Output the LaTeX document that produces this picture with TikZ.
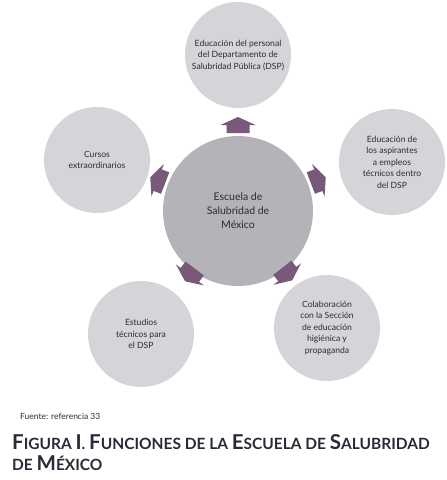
\documentclass[tikz,border=0pt]{standalone}
\usepackage{fontspec}
\setmainfont{Lato}
\usepackage{tikz}
\usetikzlibrary{positioning,calc}
\definecolor{outergray}{HTML}{D5D5D9}
\definecolor{centergray}{HTML}{B5B3B8}
\definecolor{arrowplum}{HTML}{78597A}
\definecolor{inktext}{HTML}{2A2A38}
\tikzset{
  outer/.style = {circle, fill=outergray, minimum size=106pt, inner sep=0pt, align=center,
                  text=inktext, font=\fontsize{8.6}{11.5}\selectfont},
  hub/.style   = {circle, fill=centergray, minimum size=150pt, inner sep=0pt, align=center,
                  text=inktext, font=\fontsize{10.5}{14}\selectfont},
  caption/.style = {anchor=base west, text=inktext, inner sep=0pt, font=\bfseries\fontsize{15.5}{20}\selectfont},
  blockarrow/.pic = {\fill[arrowplum] (-8,-11.5) -- (0,-11.5) -- (0,-17.5) -- (8,0)
                     -- (0,17.5) -- (0,11.5) -- (-8,11.5) -- cycle;}
}
\newcommand{\capl}[1]{{\fontsize{20.5}{20}\selectfont #1}}

\begin{document}
\begin{tikzpicture}[x=1pt, y=1pt]
    \useasboundingbox (0,0) rectangle (447,-480);
    % centro y funciones
    \node[hub] (esm) at (238,-211) {Escuela de\\Salubridad de\\México};
    \node[outer] (edp) at (238,-55) {Educación del personal\\del Departamento de\\Salubridad Pública (DSP)};
    \node[outer] (eat) at (392,-162) {Educación de\\los aspirantes\\a empleos\\técnicos dentro\\del DSP};
    \node[outer] (col) at (327,-328) {Colaboración\\con la Sección\\de educación\\higiénica y\\propaganda};
    \node[outer] (etd) at (141,-334) {Estudios\\técnicos para\\el DSP};
    \node[outer] (cex) at (97,-160) {Cursos\\extraordinarios};
    % flechas
    \foreach \a/\d in {90/86, 21/86, -52/80, -127/80, 159/86}
        \pic[rotate=\a] at ($(esm.center)+(\a:\d)$) {blockarrow};
    % pie de figura
    \node[anchor=base west, text=inktext, inner sep=0pt, font=\fontsize{8.5}{10}\selectfont] (src) at (20,-419) {Fuente: referencia 33};
    \node[caption] (cap1) at (12,-449)
        {\capl{F}IGURA \capl{I}. \capl{F}UNCIONES DE LA \capl{E}SCUELA DE \capl{S}ALUBRIDAD};
    \node[caption] (cap2) at (12,-470) {DE \capl{M}ÉXICO};
\end{tikzpicture}
\end{document}
